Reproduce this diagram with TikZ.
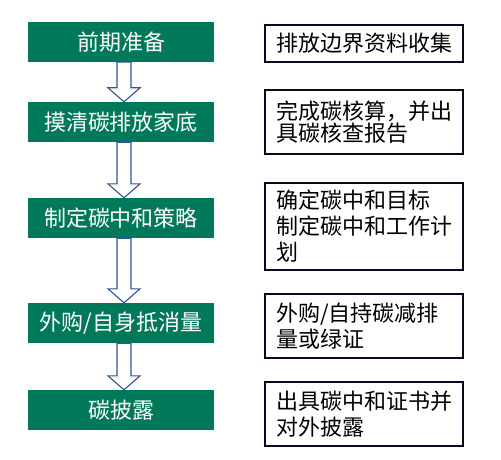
\documentclass[tikz,border=0pt]{standalone}
\usepackage{fontspec}
\newfontfamily\cjk{Noto Sans CJK SC}
\usetikzlibrary{calc}
\definecolor{stepgreen}{RGB}{0,121,91}
\definecolor{arrowblue}{RGB}{47,85,151}
\definecolor{boxline}{RGB}{10,10,30}
\tikzset{
  greenbox/.style={fill=stepgreen, draw=none, text=white, minimum width=186pt, minimum height=40pt, inner sep=0pt, font=\cjk\fontsize{22}{26}\selectfont},
  notebox/.style={draw=boxline, line width=1.1pt, fill=white, minimum width=198pt, inner xsep=0pt, inner ysep=0pt, text width=176pt, align=left, font=\cjk\fontsize{22}{26}\selectfont},
  blockarrow/.style={draw=arrowblue, line width=1.1pt, fill=white, line join=miter}
}
\newcommand\blockarr[2]{%
  \draw[blockarrow] let \p1=($(#1.south)+(3pt,0)$), \p2=($(#2.north)+(3pt,0)$) in
    (\x1-7pt,\y1) -- (\x1-7pt,\y2+14pt) -- (\x1-16pt,\y2+14pt) -- (\x1,\y2)
    -- (\x1+16pt,\y2+14pt) -- (\x1+7pt,\y2+14pt) -- (\x1+7pt,\y1) -- cycle;}
\begin{document}
\begin{tikzpicture}[x=1pt,y=-1pt]
\useasboundingbox[fill=white] (0,0) rectangle (501,460);
\node[greenbox] (g1) at (121,42) {前期准备};
\node[greenbox] (g2) at (121,122) {摸清碳排放家底};
\node[greenbox] (g3) at (121,218) {制定碳中和策略};
\node[greenbox] (g4) at (121,323) {外购/自身抵消量};
\node[greenbox] (g5) at (121,410) {碳披露};
\blockarr{g1}{g2}
\blockarr{g2}{g3}
\blockarr{g3}{g4}
\blockarr{g4}{g5}
\node[notebox, minimum height=37pt] (n1) at (364,43.5) {排放边界资料收集};
\node[notebox, minimum height=64pt, font=\cjk\fontsize{22}{22}\selectfont] (n2) at (364,122) {完成碳核算，并出\\具碳核查报告};
\node[notebox, minimum height=87pt] (n3) at (364,226.5) {确定碳中和目标\\制定碳中和工作计\\划};
\node[notebox, minimum height=64pt] (n4) at (364,326) {外购/自持碳减排\\量或绿证};
\node[notebox, minimum height=64pt] (n5) at (364,414) {出具碳中和证书并\\对外披露};
\end{tikzpicture}
\end{document}
